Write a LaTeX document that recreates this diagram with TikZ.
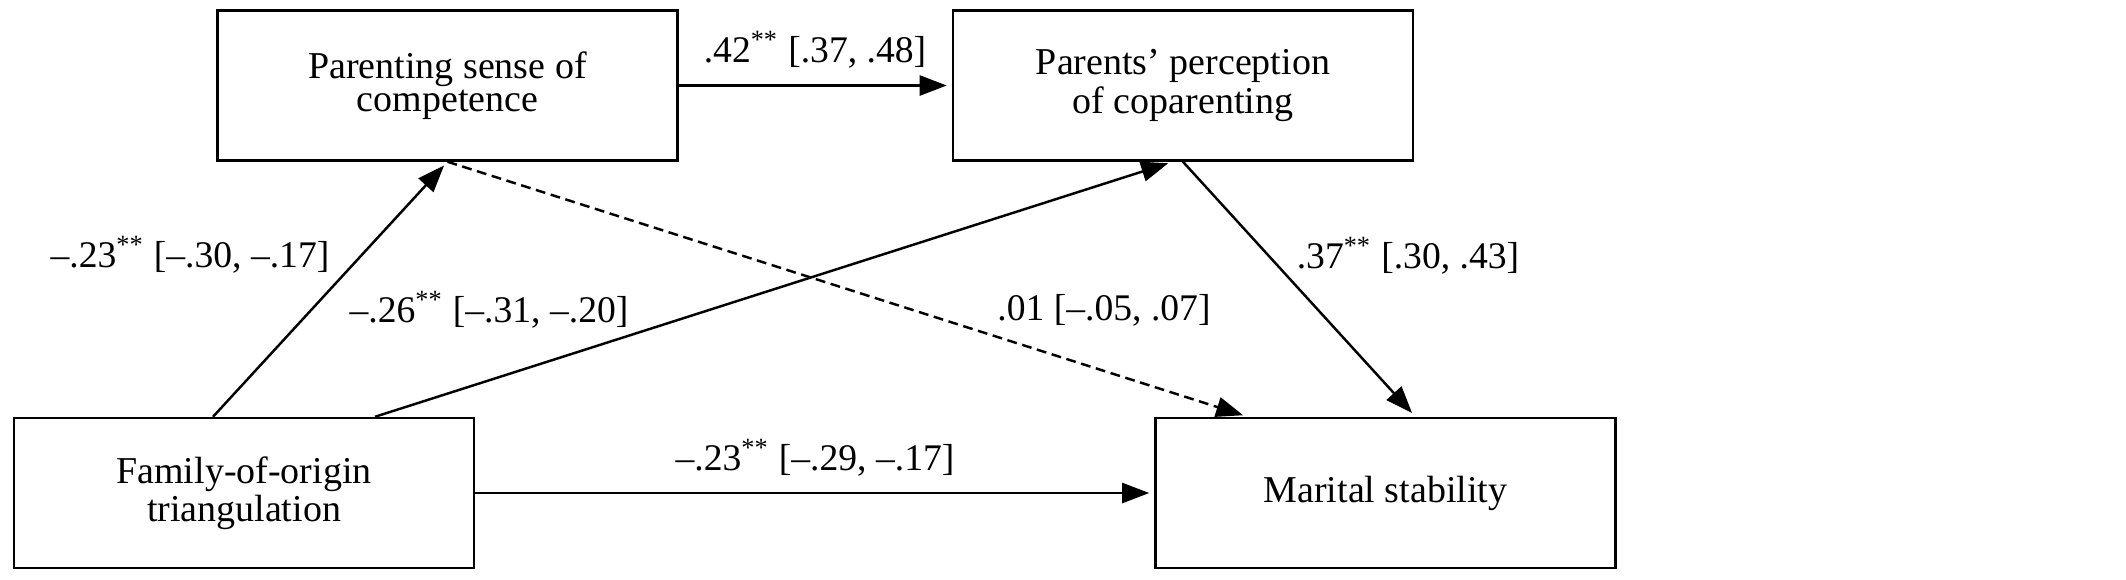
\documentclass[tikz,border=0pt]{standalone}
\usepackage{fontspec}
\setmainfont{Liberation Serif}
\usepackage{tikz}
\usetikzlibrary{arrows.meta, positioning, calc}

\begin{document}
\begin{tikzpicture}[
  box/.style={rectangle, draw=black, line width=0.7pt,
    minimum width=4.6cm, minimum height=1.5cm, inner sep=0pt,
    align=center, font=\fontsize{10.8}{9.4}\selectfont},
  arrow/.style={-{Triangle[length=2.7mm, width=2mm]}, line width=0.7pt,
    shorten >=0.05cm},
  dasharrow/.style={arrow, dash pattern=on 2.8pt off 1.6pt},
  lbl/.style={font=\fontsize{10.7}{13}\selectfont, inner sep=0pt}
]
\useasboundingbox (0,0) rectangle (21.26,-5.79);

% Variables
\node[box] (comp) at (4.475,-0.855) {Parenting sense of\\competence};
\node[box, right=2.73cm of comp] (copar) {Parents’ perception\\of coparenting};
\node[box] (fam) at (2.44,-4.93) {Family-of-origin\\triangulation};
\node[box, right=6.79cm of fam] (stab) {Marital stability};

% Paths
\draw[arrow] (comp) -- (copar);
\draw[arrow] ([xshift=-0.31cm]fam.north) -- (comp.south);
\draw[arrow] ([xshift=1.31cm]fam.north) -- ([xshift=-0.1cm]copar.south);
\draw[dasharrow] (comp.south) -- ([xshift=-1.375cm]stab.north);
\draw[arrow] (copar.south) -- ([xshift=0.3cm]stab.north);
\draw[arrow] (fam) -- (stab);

% Coefficients
\node[lbl] (l-cc) at (8.15,-0.50) {.42\textsuperscript{**} [.37, .48]};
\node[lbl] (l-fc) at (1.90,-2.55) {--.23\textsuperscript{**} [--.30, --.17]};
\node[lbl] (l-fp) at (4.89,-3.10) {--.26\textsuperscript{**} [--.31, --.20]};
\node[lbl] (l-cs) at (11.04,-3.10) {.01 [--.05, .07]};
\node[lbl] (l-ps) at (14.08,-2.56) {.37\textsuperscript{**} [.30, .43]};
\node[lbl] (l-fs) at (8.15,-4.58) {--.23\textsuperscript{**} [--.29, --.17]};
\end{tikzpicture}
\end{document}
